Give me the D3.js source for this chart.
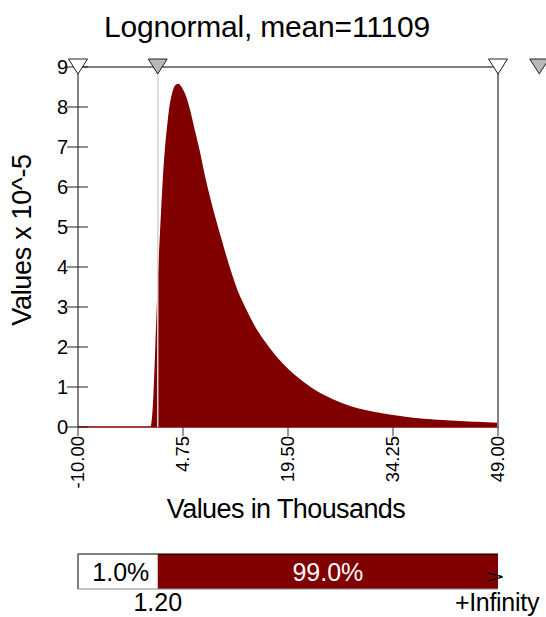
<!DOCTYPE html>
<html>
<head>
<meta charset="utf-8">
<script src="https://cdn.jsdelivr.net/npm/d3@7"></script>
<style>
  html, body { margin: 0; padding: 0; background: #fff; }
  svg { display: block; font-family: "Liberation Sans", Arial, sans-serif; }
</style>
</head>
<body>
<svg id="chart" width="546" height="617"></svg>
<script>
// Lognormal density, values in thousands (x) and x 10^-5 (y)
const densityX = [-10, 0.3, 0.4, 0.55, 0.7, 0.85, 1.0, 1.24, 1.52, 1.8, 2.08, 2.36, 2.64, 2.92, 3.2, 3.5, 3.8, 4.05,
  4.5, 5.0, 5.6, 6.2, 7.0, 7.7, 8.5, 9.4, 10.2, 11.2, 12.3, 13.5, 14.8, 16.2, 17.8, 19.5, 21.5, 23.6, 26.0, 28.2,
  31.0, 34.25, 37.0, 40.0, 43.0, 46.0, 49.0];
const densityY = [0, 0, 0.08, 0.35, 0.8, 1.45, 2.2, 3.35, 4.5, 5.5, 6.4, 7.05, 7.55, 7.98, 8.25, 8.45, 8.54, 8.56,
  8.48, 8.3, 7.95, 7.5, 6.9, 6.3, 5.7, 5.1, 4.6, 4.0, 3.42, 2.95, 2.5, 2.12, 1.75, 1.43, 1.13, 0.87, 0.66, 0.51,
  0.38, 0.28, 0.21, 0.17, 0.135, 0.11, 0.09];

const yTicks = [0, 1, 2, 3, 4, 5, 6, 7, 8, 9];
const xTicks = [-10, 4.75, 19.5, 34.25, 49];
const xTickLabels = ["-10.00", "4.75", "19.50", "34.25", "49.00"];

// Delimiter sliders along the top edge
const markerValues = [-10, 1.2, 49, 54.8];
const markerFilled = [false, true, false, true];

// Probability bar below the chart
const splitValue = 1.2;
const barPercents = ["1.0%", "99.0%"];
const barBounds = ["1.20", "+Infinity"];

const titleText = "Lognormal, mean=11109";
const xTitle = "Values in Thousands";
const yTitle = "Values x 10^-5";

const RED = "#800000";
const svg = d3.select("#chart");

const x = d3.scaleLinear().domain([-10, 49]).range([78, 498]);
const y = d3.scaleLinear().domain([0, 9]).range([427, 67]);

const pts = densityX.map((v, i) => [v, densityY[i]]);

// Filled density
svg.append("path")
  .datum(pts)
  .attr("fill", RED)
  .attr("stroke", RED)
  .attr("stroke-width", 1.5)
  .attr("d", d3.area()
    .x(d => x(d[0]))
    .y0(y(0))
    .y1(d => y(d[1]))
    .curve(d3.curveMonotoneX));

// Split line at the left delimiter
svg.append("line")
  .attr("x1", x(splitValue)).attr("x2", x(splitValue))
  .attr("y1", y(9)).attr("y2", y(0))
  .attr("stroke", "#d4d4d4").attr("stroke-width", 1.5);

// Right boundary
svg.append("line")
  .attr("x1", x(49)).attr("x2", x(49))
  .attr("y1", y(9)).attr("y2", y(0) + 1)
  .attr("stroke", "#808080").attr("stroke-width", 2);

// Top edge
svg.append("line")
  .attr("x1", x(-10)).attr("x2", x(49))
  .attr("y1", y(9)).attr("y2", y(9))
  .attr("stroke", "#000").attr("stroke-width", 1.2);

// Y axis
const yAxis = svg.append("g").attr("transform", `translate(${x(-10)},0)`);
yAxis.append("line")
  .attr("y1", y(9)).attr("y2", y(0))
  .attr("stroke", "#404040").attr("stroke-width", 1.3);
yAxis.selectAll("line.tick").data(yTicks).join("line")
  .attr("class", "tick")
  .attr("x1", -11).attr("x2", 10)
  .attr("y1", d => y(d)).attr("y2", d => y(d))
  .attr("stroke", "#202020").attr("stroke-width", 1);
yAxis.selectAll("text").data(yTicks).join("text")
  .attr("x", -10).attr("y", d => y(d))
  .attr("dy", "0.36em")
  .attr("text-anchor", "end")
  .attr("font-size", 20)
  .attr("fill", "#000")
  .text(d => d);

// X axis
const xAxis = svg.append("g");
xAxis.selectAll("line").data(xTicks).join("line")
  .attr("x1", d => x(d)).attr("x2", d => x(d))
  .attr("y1", y(0)).attr("y2", y(0) + 9)
  .attr("stroke", "#303030").attr("stroke-width", 1);
xAxis.selectAll("text").data(xTicks).join("text")
  .attr("transform", d => `translate(${x(d) + 6},${y(0) + 9}) rotate(-90)`)
  .attr("text-anchor", "end")
  .attr("font-size", 18.5)
  .attr("fill", "#000")
  .text((d, i) => xTickLabels[i]);

// Delimiter markers
const tri = 9.5, triH = 15, triTop = y(9) - 8;
svg.selectAll("path.marker").data(markerValues).join("path")
  .attr("class", "marker")
  .attr("d", d => `M${x(d) - tri},${triTop} L${x(d) + tri},${triTop} L${x(d)},${triTop + triH} Z`)
  .attr("fill", (d, i) => markerFilled[i] ? "#b8b8b8" : "#fff")
  .attr("stroke", "#202020")
  .attr("stroke-width", 1);

// Titles
svg.append("text")
  .attr("x", 267).attr("y", 37)
  .attr("text-anchor", "middle")
  .attr("font-size", 30)
  .attr("letter-spacing", -0.2)
  .text(titleText);

svg.append("text")
  .attr("x", 286).attr("y", 518)
  .attr("text-anchor", "middle")
  .attr("font-size", 27)
  .attr("letter-spacing", -0.6)
  .text(xTitle);

svg.append("text")
  .attr("transform", "translate(31,240) rotate(-90)")
  .attr("text-anchor", "middle")
  .attr("font-size", 27)
  .attr("letter-spacing", -0.3)
  .text(yTitle);

// Probability bar
const barY = 554, barH = 35;
const bar = svg.append("g");
bar.append("rect")
  .attr("x", x(-10)).attr("y", barY)
  .attr("width", x(splitValue) - x(-10)).attr("height", barH)
  .attr("fill", "#fff");
bar.append("rect")
  .attr("x", x(splitValue)).attr("y", barY)
  .attr("width", x(49) - x(splitValue)).attr("height", barH)
  .attr("fill", RED);
bar.append("path")
  .attr("d", `M${x(-10)},${barY + barH} L${x(-10)},${barY} L${x(49)},${barY}`)
  .attr("fill", "none").attr("stroke", "#000").attr("stroke-width", 1);
bar.append("line")
  .attr("x1", x(-10)).attr("x2", x(49))
  .attr("y1", barY + barH).attr("y2", barY + barH)
  .attr("stroke", "#888").attr("stroke-width", 1);

bar.append("text")
  .attr("x", (x(-10) + x(splitValue)) / 2 + 3).attr("y", barY + barH / 2)
  .attr("dy", "0.36em").attr("text-anchor", "middle")
  .attr("font-size", 25).attr("fill", "#000")
  .text(barPercents[0]);
bar.append("text")
  .attr("x", (x(splitValue) + x(49)) / 2).attr("y", barY + barH / 2)
  .attr("dy", "0.36em").attr("text-anchor", "middle")
  .attr("font-size", 25).attr("fill", "#fff")
  .text(barPercents[1]);
// Open-ended arrow at the right end of the bar
bar.append("text")
  .attr("transform", `translate(${x(49) - 3},${barY + barH / 2 + 11}) scale(1.4,0.85)`)
  .attr("text-anchor", "middle")
  .attr("font-size", 22).attr("fill", "#000")
  .text(">");

bar.append("text")
  .attr("x", x(splitValue)).attr("y", 611)
  .attr("text-anchor", "middle")
  .attr("font-size", 25)
  .text(barBounds[0]);
bar.append("text")
  .attr("x", x(49) - 1).attr("y", 611)
  .attr("text-anchor", "middle")
  .attr("font-size", 25)
  .attr("letter-spacing", -0.3)
  .text(barBounds[1]);
</script>
</body>
</html>
